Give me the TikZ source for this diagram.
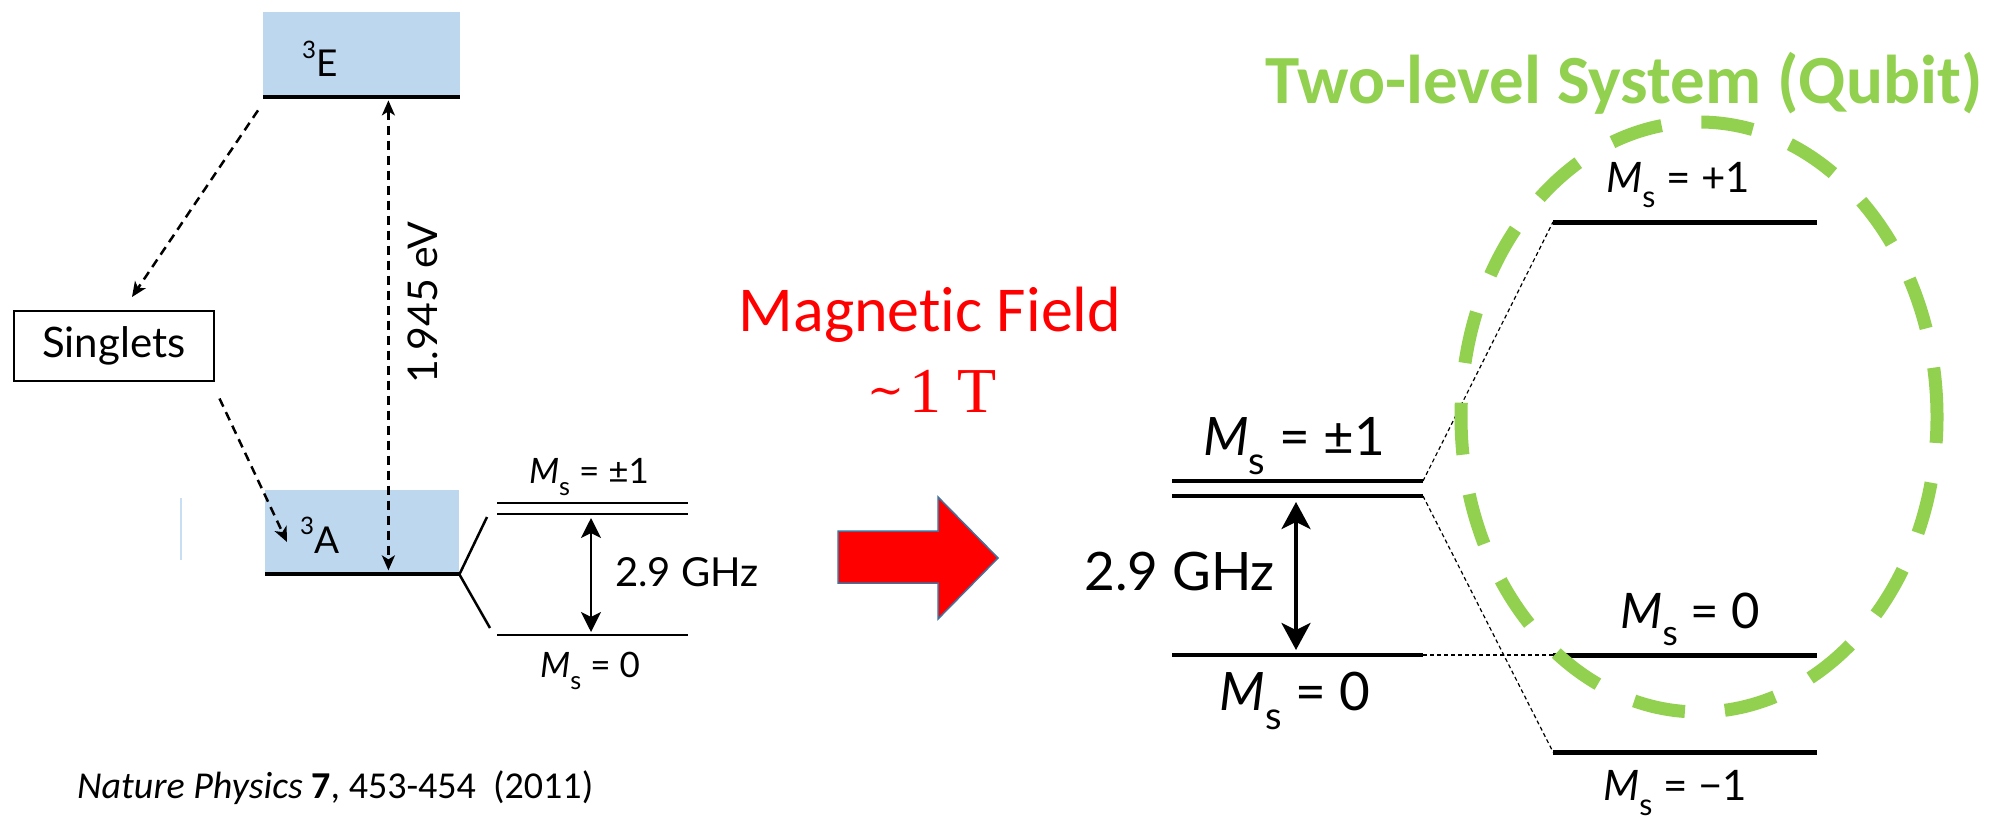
\documentclass[tikz,border=0pt]{standalone}
\usepackage{fontspec}
\newfontfamily\calfont{Carlito}[Ligatures=NoCommon]
\newfontfamily\figfont{Lato}
\newfontfamily\serfont{Liberation Serif}
\newfontfamily\dvsfont{DejaVu Serif}
\usetikzlibrary{arrows.meta}

\definecolor{lblue}{RGB}{189,215,238}
\definecolor{qgreen}{RGB}{146,208,80}
\definecolor{arrowedge}{RGB}{65,113,156}
\definecolor{faintblue}{RGB}{200,222,243}

\newcommand{\fs}[1]{\fontsize{#1}{#1}\selectfont}
\newcommand{\Ms}{{\itshape M}\raisebox{-0.36em}{\scalebox{0.72}{s}}}
\newcommand{\supn}[1]{\raisebox{0.5em}{\scalebox{0.65}{#1}}}

\begin{document}
\begin{tikzpicture}[x=1pt,y=-1pt,
  figlabel/.style={font=\figfont, inner sep=0pt},
  thicklevel/.style={line width=4pt},
  lvl/.style={line width=2.5pt},
  rlvl/.style={line width=3.5pt},
  qlvl/.style={line width=5pt},
  dashline/.style={line width=2.5pt, dash pattern=on 9pt off 6pt},
  stip/.style={-{Stealth[length=15pt,width=13pt,inset=4pt]}},
  sboth/.style={{Stealth[length=15pt,width=13pt,inset=4pt]}-{Stealth[length=15pt,width=13pt,inset=4pt]}},
  lboth/.style={{Stealth[length=20pt,width=20pt,inset=5pt]}-{Stealth[length=20pt,width=20pt,inset=5pt]}},
  rboth/.style={{Stealth[length=27pt,width=29pt,inset=7pt]}-{Stealth[length=27pt,width=29pt,inset=7pt]}},
  thindash/.style={line width=1.2pt, dash pattern=on 4pt off 3pt},
  bluebox/.style={fill=lblue, inner sep=0pt, anchor=north west}
]
\fill[white] (0,0) rectangle (2005,816);
\useasboundingbox (0,0) rectangle (2005,816);

% ---------- left diagram ----------
\node[bluebox, minimum width=197pt, minimum height=85pt] (E3) at (263,12) {};
\draw[thicklevel] (E3.south west) -- (E3.south east);
\node[figlabel, font=\figfont\fs{37}, anchor=base west] (E3t) at (302,77) {\supn{3}E};

\node[draw, line width=1.5pt, minimum width=200pt, minimum height=70pt, inner sep=0pt,
      anchor=north west, font=\figfont\fs{42}] (S) at (13,310) {Singlets};

\node[bluebox, minimum width=194pt, minimum height=84pt] (A3) at (265,490) {};
\draw[thicklevel] (A3.south west) -- (A3.south east);
\node[figlabel, font=\figfont\fs{37}, anchor=base west] (A3t) at (300,553) {\supn{3}A};

\draw[faintblue, line width=2pt] (181,498) -- (181,560);

\draw[dashline, stip] ([shift={(-5,13)}]E3.south west) -- ([shift={(119,-13)}]S.north west);
\draw[dashline, stip] ([shift={(5,17)}]S.south east) -- ([shift={(22,52)}]A3.north west);
\draw[dashline, sboth] ([shift={(-72,3)}]E3.south east) -- ([shift={(-71,-4)}]A3.south east);
\node[figlabel, font=\figfont\fs{41}, rotate=90] (eV) at (423,303) {1.945 eV};

\coordinate (Lp1a) at (497,503); \coordinate (Lp1b) at (688,503);
\coordinate (Lp2a) at (497,514); \coordinate (Lp2b) at (688,514);
\coordinate (L0a) at (497,635);  \coordinate (L0b) at (688,635);
\coordinate (SpU) at (487,517);  \coordinate (SpD) at (490,628);
\draw[lvl] (Lp1a) -- (Lp1b);
\draw[lvl] (Lp2a) -- (Lp2b);
\draw[lvl] (L0a) -- (L0b);
\draw[lvl] (SpU) -- (A3.south east) -- (SpD);
\draw[lvl, lboth] ([shift={(94,4)}]Lp2a) -- ([shift={(94,-3)}]L0a);
\node[figlabel, font=\figfont\fs{35}, anchor=base] (Lpl) at (589,483) {\Ms{} = ±1};
\node[figlabel, font=\figfont\fs{35}, anchor=base] (L0l) at (590,677) {\Ms{} = 0};
\node[figlabel, font=\figfont\fs{40}, anchor=base west] (Lghz) at (615,586) {2.9 GHz};

\node[font=\calfont\fs{38}, inner sep=0pt, anchor=base west] (cap) at (77,798)
  {\textit{Nature Physics} \textbf{7}, 453-454\ \ (2011)};

% ---------- middle ----------
\node[font=\calfont\fs{64}, text=red, inner sep=0pt, anchor=base] (MF) at (930,331) {Magnet\kern0pt ic Field};
\node[font=\serfont\fs{64}, text=red, inner sep=0pt, anchor=base] (T1) at (932,412)
  {\raisebox{7pt}{\dvsfont\fs{44}∼}\kern6pt 1 T};
\draw[fill=red, draw=arrowedge, line width=1.5pt]
  (838,531) -- (938,531) -- (938,497) -- (998,558) -- (938,619) -- (938,583) -- (838,583) -- cycle;

% ---------- right middle ----------
\coordinate (R1a) at (1172,481); \coordinate (R1b) at (1423,481);
\coordinate (R2a) at (1172,496); \coordinate (R2b) at (1423,496);
\coordinate (R0a) at (1172,655); \coordinate (R0b) at (1423,655);
\draw[rlvl] (R1a) -- (R1b);
\draw[rlvl] (R2a) -- (R2b);
\draw[rlvl] (R0a) -- (R0b);
\draw[rlvl, rboth] ([shift={(124,6)}]R2a) -- ([shift={(124,-5)}]R0a);
\node[figlabel, font=\figfont\fs{53}, anchor=base] (Rpl) at (1294,455) {\Ms{} = ±1};
\node[figlabel, font=\figfont\fs{53}, anchor=base] (R0l) at (1295,710) {\Ms{} = 0};
\node[figlabel, font=\figfont\fs{53}, anchor=base east] (Rghz) at (1275,590) {2.9 GHz};

% ---------- right ----------
\coordinate (Q1a) at (1553,222); \coordinate (Q1b) at (1817,222);
\coordinate (Q0a) at (1553,655); \coordinate (Q0b) at (1817,655);
\coordinate (Qma) at (1553,752); \coordinate (Qmb) at (1817,752);
\draw[qlvl] (Q1a) -- (Q1b);
\draw[qlvl] (Q0a) -- (Q0b);
\draw[qlvl] (Qma) -- (Qmb);
\node[figlabel, font=\figfont\fs{42}, anchor=base] (Q1l) at (1678,192) {\Ms{} = +1};
\node[figlabel, font=\figfont\fs{49}, anchor=base] (Q0l) at (1690,628) {\Ms{} = 0};
\node[figlabel, font=\figfont\fs{42}, anchor=base] (Qml) at (1675,800) {\Ms{} = −1};

\draw[thindash] (R1b) -- (Q1a);
\draw[thindash] (R2b) -- (Qma);
\draw[thindash] (R0b) -- (Q0a);

\draw[qgreen, line width=13pt, dash pattern=on 52pt off 40pt, dash phase=26pt]
  (1699,417) ellipse [x radius=238, y radius=295];

\node[font=\calfont\bfseries\fs{69}, text=qgreen, inner sep=0pt, anchor=base west] (title) at (1265,103)
  {Two-level System (Qubit)};
\end{tikzpicture}
\end{document}
